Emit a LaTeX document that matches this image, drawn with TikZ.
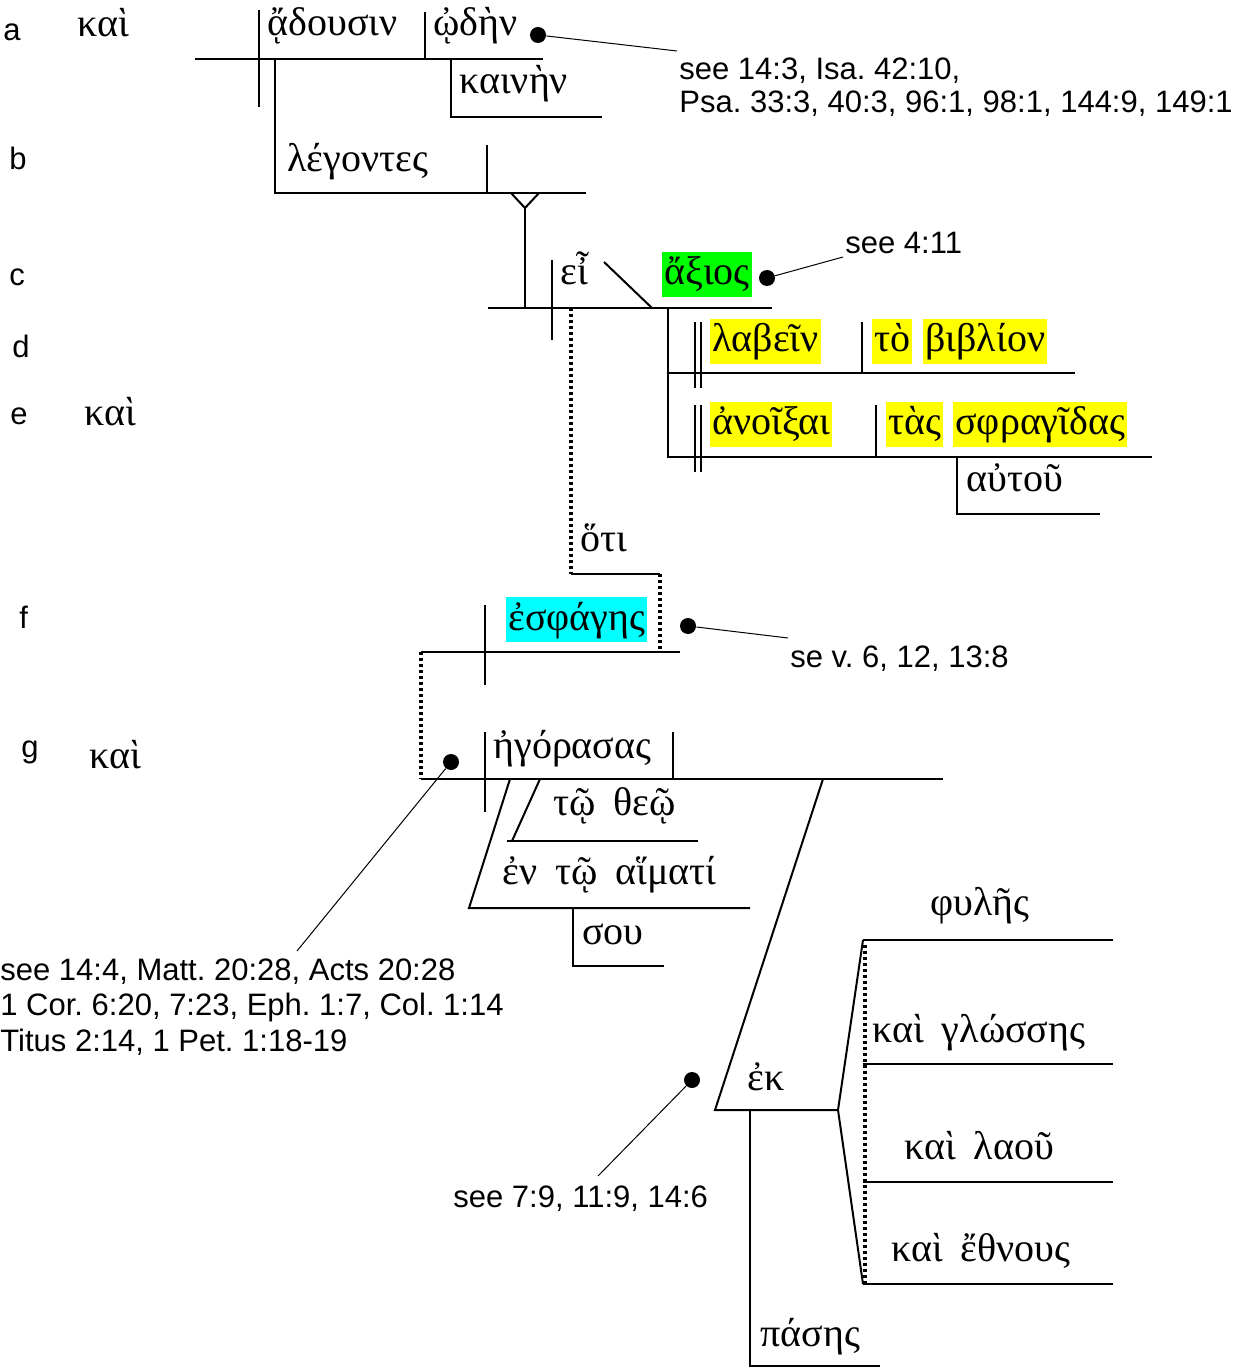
\documentclass[tikz,border=0pt]{standalone}
\usepackage{fontspec}
\setmainfont{Liberation Sans}
\newfontfamily\grk[Script=Greek]{Liberation Serif}
\definecolor{hgreen}{RGB}{0,255,0}
\definecolor{hyellow}{RGB}{255,255,0}
\definecolor{hcyan}{RGB}{0,255,255}
\frenchspacing
\begin{document}
\begin{tikzpicture}[x=0.5pt,y=-0.5pt,
  ln/.style={line width=1pt},
  thinln/.style={line width=0.5pt},
  dotl/.style={line width=1.6pt, dash pattern=on 1.4pt off 1.6pt},
  gk/.style={font=\grk\fontsize{20}{23}\selectfont, inner sep=0pt, anchor=base west},
  lab/.style={font=\fontsize{15.5}{18}\selectfont, inner sep=0pt, anchor=base west},
  hl/.style={fill=#1, text height=16.5pt, text depth=6pt, inner xsep=1pt, inner ysep=0pt},
  dot/.style={circle, fill=black, inner sep=0pt, minimum size=8pt}]
\useasboundingbox (0,0) rectangle (1236,1368);

% ---- row labels
\node[lab] (la) at (3,41) {a};
\node[lab] (lb) at (9,170) {b};
\node[lab] (lc) at (9,286) {c};
\node[lab] (ld) at (12,358) {d};
\node[lab] (le) at (10,425) {e};
\node[lab] (lf) at (19,628) {f};
\node[lab] (lg) at (21,757) {g};
\node[gk] (k1) at (77,37) {καὶ};
\node[gk] (k2) at (84,426) {καὶ};
\node[gk] (k3) at (89,768) {καὶ};

% ---- row a
\node[gk] (adousin) at (267,36) {ᾄδουσιν};
\node[gk] (oden) at (433,36) {ᾠδὴν};
\node[gk] (kainen) at (459,94) {καινὴν};
\draw[ln] (195,59) coordinate (aL) -- (543,59) coordinate (aR);
\draw[ln] (259,10) coordinate (sv1) -- (259,107) coordinate (sv2);
\draw[ln] (425,12) coordinate (vo1) -- (425,59) coordinate (vo2);
\draw[ln] (451,59) coordinate (ka1) -- (451,117) coordinate (ka2) -- (602,117) coordinate (ka3);

% ---- row b
\node[gk] (legontes) at (287,172) {λέγοντες};
\draw[ln] (275,59) coordinate (le1) -- (275,193) coordinate (le2) -- (586,193) coordinate (le3);
\draw[ln] (487,145) coordinate (ld1) -- (487,193) coordinate (ld2);
\draw[ln] (511,193) coordinate (y1) -- (525,208) coordinate (y2) -- (539,193) coordinate (y3);
\draw[ln] (y2) -- (525,308) coordinate (y4);

% ---- row c
\node[gk] (ei) at (560,285) {εἶ};
\node[gk, hl=hgreen] (axios) at (662,285) {ἄξιος};
\draw[ln] (488,308) coordinate (cL) -- (772,308) coordinate (cR);
\draw[ln] (552,260) coordinate (cv1) -- (552,340) coordinate (cv2);
\draw[ln] (604,262) coordinate (cs1) -- (652,308) coordinate (cs2);

% ---- rows d, e
\node[gk, hl=hyellow] (labein) at (710,352) {λαβεῖν};
\node[gk, hl=hyellow] (to) at (872,352) {τὸ};
\node[gk, hl=hyellow] (biblion) at (923,352) {βιβλίον};
\node[gk, hl=hyellow] (anoixai) at (710,435) {ἀνοῖξαι};
\node[gk, hl=hyellow] (tas) at (886,435) {τὰς};
\node[gk, hl=hyellow] (sphragidas) at (953,435) {σφραγῖδας};
\node[gk] (autou) at (966,492) {αὐτοῦ};
\draw[ln] (668,308) coordinate (i1) -- (668,457) coordinate (i2) -- (1152,457) coordinate (i3);
\draw[ln] (668,373) coordinate (i4) -- (1075,373) coordinate (i5);
\draw[ln] (695,322) coordinate (db1) -- (695,388) coordinate (db2);
\draw[ln] (701,322) coordinate (db3) -- (701,388) coordinate (db4);
\draw[ln] (695,405) coordinate (db5) -- (695,472) coordinate (db6);
\draw[ln] (701,405) coordinate (db7) -- (701,472) coordinate (db8);
\draw[ln] (862,322) coordinate (dv1) -- (862,373) coordinate (dv2);
\draw[ln] (876,405) coordinate (ev1) -- (876,457) coordinate (ev2);
\draw[ln] (957,457) coordinate (au1) -- (957,514) coordinate (au2) -- (1100,514) coordinate (au3);

% ---- hoti
\node[gk] (hoti) at (580,551) {ὅτι};
\draw[dotl] (571,308) coordinate (h1) -- (571,574) coordinate (h2);
\draw[ln] (h2) -- (660,574) coordinate (h3);
\draw[dotl] (h3) -- (660,652) coordinate (h4);

% ---- row f
\node[gk, hl=hcyan] (esphages) at (506,630) {ἐσφάγης};
\draw[ln] (421,652) coordinate (fL) -- (680,652) coordinate (fR);
\draw[ln] (485,605) coordinate (fv1) -- (485,685) coordinate (fv2);
\draw[dotl] (fL) -- (421,779) coordinate (gL);

% ---- row g
\node[gk] (egorasas) at (493,758) {ἠγόρασας};
\draw[ln] (gL) -- (943,779) coordinate (gR);
\draw[ln] (485,732) coordinate (gv1) -- (485,812) coordinate (gv2);
\draw[ln] (673,732) coordinate (gv3) -- (673,779) coordinate (gv4);

\node[gk] (tootheo) at (553,815) {τῷ\hspace{0.45em}θεῷ};
\draw[ln] (540,779) coordinate (p1a) -- (512,841) coordinate (p1b);
\draw[ln] (507,841) coordinate (p1c) -- (698,841) coordinate (p1d);

\node[gk] (enaimati) at (502,884) {ἐν\hspace{0.45em}τῷ\hspace{0.45em}αἵματί};
\draw[ln] (510,779) coordinate (p2a) -- (469,908) coordinate (p2b) -- (750,908) coordinate (p2c);
\node[gk] (sou) at (582,944) {σου};
\draw[ln] (573,908) coordinate (so1) -- (573,966) coordinate (so2) -- (664,966) coordinate (so3);

\node[gk] (ek) at (747,1090) {ἐκ};
\draw[ln] (823,779) coordinate (p3a) -- (715,1110) coordinate (p3b) -- (838,1110) coordinate (p3c);
\draw[ln] (863,940) coordinate (fk1) -- (p3c) -- (863,1284) coordinate (fk2);
\draw[ln] (fk1) -- (1113,940) coordinate (fh1);
\draw[ln] (863,1064) coordinate (fh2a) -- (1113,1064) coordinate (fh2b);
\draw[ln] (863,1182) coordinate (fh3a) -- (1113,1182) coordinate (fh3b);
\draw[ln] (fk2) -- (1113,1284) coordinate (fh4);
\draw[dotl] (865,945) coordinate (fd1) -- (865,1284) coordinate (fd2);
\node[gk] (phyles) at (930,915) {φυλῆς};
\node[gk] (glosses) at (872,1042) {καὶ\hspace{0.45em}γλώσσης};
\node[gk] (laou) at (904,1159) {καὶ\hspace{0.45em}λαοῦ};
\node[gk] (ethnous) at (891,1261) {καὶ\hspace{0.45em}ἔθνους};

\node[gk] (pases) at (760,1346) {πάσης};
\draw[ln] (750,1110) coordinate (pa1) -- (750,1366) coordinate (pa2) -- (880,1366) coordinate (pa3);

% ---- references with dots
\node[dot] (d1) at (538,35) {};
\node[lab] (r1a) at (679,80) {see 14:3, Isa. 42:10,};
\node[lab] (r1b) at (679,113) {Psa. 33:3, 40:3, 96:1, 98:1, 144:9, 149:1};
\draw[thinln] (d1) -- (677,51) coordinate (e1);

\node[dot] (d2) at (767,278) {};
\node[lab] (r2) at (845,254) {see 4:11};
\draw[thinln] (d2) -- (843,257) coordinate (e2);

\node[dot] (d3) at (688,626) {};
\node[lab] (r3) at (790,667) {se v. 6, 12, 13:8};
\draw[thinln] (d3) -- (788,638) coordinate (e3);

\node[dot] (d4) at (451,762) {};
\node[lab] (r4a) at (0,980) {see 14:4, Matt. 20:28, Acts 20:28};
\node[lab] (r4b) at (0,1015) {1 Cor. 6:20, 7:23, Eph. 1:7, Col. 1:14};
\node[lab] (r4c) at (0,1051) {Titus 2:14, 1 Pet. 1:18-19};
\draw[thinln] (d4) -- (297,951) coordinate (e4);

\node[dot] (d5) at (692,1080) {};
\node[lab] (r5) at (453,1207) {see 7:9, 11:9, 14:6};
\draw[thinln] (d5) -- (598,1176) coordinate (e5);
\end{tikzpicture}
\end{document}
